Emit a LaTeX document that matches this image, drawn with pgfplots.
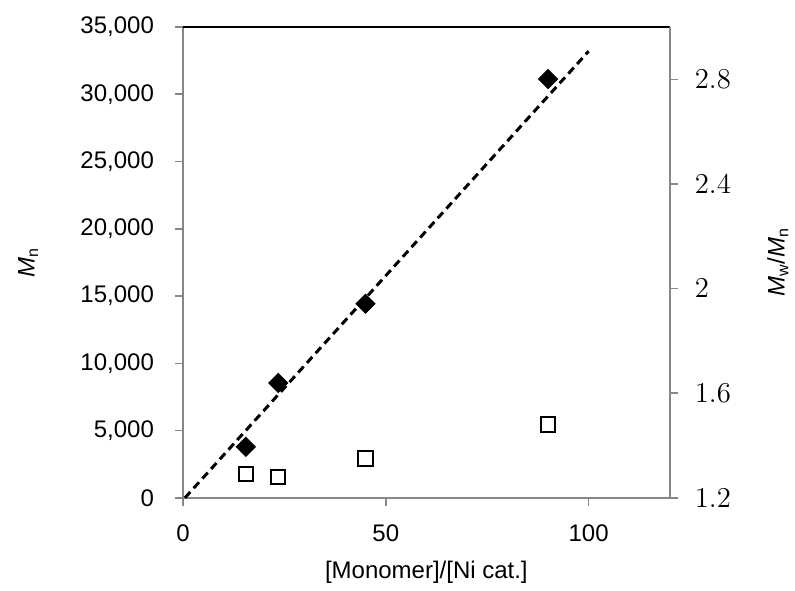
\documentclass[border=0pt]{standalone}
\usepackage{fontspec}
\setsansfont{Liberation Sans}
\usepackage{pgfplots}
\pgfplotsset{compat=1.18}
\definecolor{axgray}{RGB}{134,134,134}

\begin{document}
\begin{tikzpicture}
% left axis: Mn
\begin{axis}[
  at={(0,0)}, anchor=south west,
  scale only axis, width=243.5pt, height=235.5pt,
  xmin=0, xmax=120, ymin=0, ymax=35000,
  axis x line*=bottom, axis y line*=left,
  axis line style={-, axgray, line width=1pt},
  xtick={0,50,100}, ytick={0,5000,...,35000},
  tick align=outside, major tick length=4pt,
  tick style={axgray, line width=0.8pt},
  scaled y ticks=false,
  /pgf/number format/1000 sep={,},
  /pgf/number format/assume math mode=true,
  tick label style={font=\sffamily\fontsize{12}{14}\selectfont},
  yticklabel style={xshift=-7pt},
  xticklabel style={yshift=-6pt},
  xlabel={[Monomer]/[Ni cat.]},
  ylabel={\textit{M}\textsubscript{n}},
  every axis x label/.style={at={(axis description cs:0.5,-0.159)}, anchor=center,
    font=\sffamily\fontsize{12}{14}\selectfont},
  every axis y label/.style={at={(axis description cs:-0.318,0.5)}, anchor=center, rotate=90,
    font=\sffamily\fontsize{12}{14}\selectfont},
  clip=false,
]
\addplot[black, line width=1.5pt, dash pattern=on 4pt off 2.5pt] coordinates {(0.5,0) (100,33200)};
\addplot[only marks, mark=square*, mark size=3.4pt, mark options={rotate=45, fill=black, draw=black}]
  coordinates {(15.5,3790) (23.5,8540) (45,14430) (90,31130)};
\draw[black, line width=1pt] (rel axis cs:0,1) -- (rel axis cs:1,1);
\end{axis}
% right axis: Mw/Mn
\begin{axis}[
  at={(0,0)}, anchor=south west,
  scale only axis, width=243.5pt, height=235.5pt,
  xmin=0, xmax=120, ymin=1.2, ymax=3.0,
  axis x line=none, axis y line*=right,
  axis line style={-, axgray, line width=1pt},
  ytick={1.2,1.6,2,2.4,2.8},
  tick align=outside, major tick length=4pt,
  tick style={axgray, line width=0.8pt},
  yticklabel style={font=\fontsize{14}{16}\selectfont, xshift=5pt},
  ylabel={\textit{M}\textsubscript{w}/\textit{M}\textsubscript{n}},
  every axis y label/.style={at={(axis description cs:1.222,0.5)}, anchor=center, rotate=90,
    font=\sffamily\fontsize{12}{14}\selectfont},
]
\addplot[only marks, mark=square, mark size=3.6pt, line width=1pt, black]
  coordinates {(15.5,1.29) (23.5,1.28) (45,1.35) (90,1.48)};
\end{axis}
\path (-91.5pt,-45pt) rectangle (306pt,249pt);
\end{tikzpicture}
\end{document}
